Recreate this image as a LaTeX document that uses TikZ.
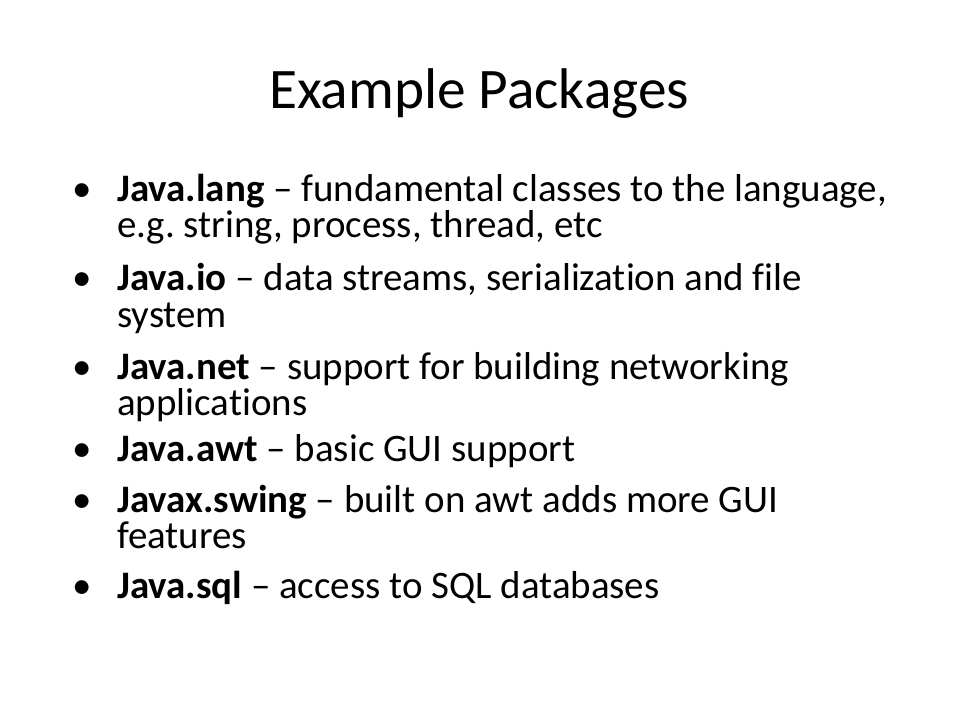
\documentclass[tikz,border=0pt]{standalone}
\usepackage{fontspec}
\setmainfont{Carlito}[Ligatures={NoCommon,NoRare,NoContextual}]
\frenchspacing
\begin{document}
\begin{tikzpicture}[x=0.75pt,y=-0.75pt,
  titletext/.style={font=\fontsize{43}{50}\selectfont, anchor=base, inner sep=0pt},
  bodytext/.style={font=\fontsize{29.2}{34}\selectfont, anchor=base west, inner sep=0pt},
  bulletmark/.style={font=\fontsize{29.2}{34}\selectfont, anchor=base, inner sep=0pt}]
\useasboundingbox (0,0) rectangle (960,720);
\fill[white] (0,0) rectangle (960,720);
\node[titletext] (title) at (479,109) {Example Packages};
% bullets
\node[bulletmark] (m1) at (82,202) {•};
\node[bulletmark] (m2) at (82,291) {•};
\node[bulletmark] (m3) at (82,379) {•};
\node[bulletmark] (m4) at (82,461) {•};
\node[bulletmark] (m5) at (82,512) {•};
\node[bulletmark] (m6) at (82,598) {•};
% lines
\node[bodytext] (l1a) at (117,202) {\textbf{Java.lang} – fundamental classes to the language,};
\node[bodytext] (l1b) at (117,238) {e.g. string, process, thread, etc};
\node[bodytext] (l2a) at (117,291) {\textbf{Java.io} – data streams, serialization and file};
\node[bodytext] (l2b) at (117,327) {system};
\node[bodytext] (l3a) at (117,379) {\textbf{Java.net} – support for building networking};
\node[bodytext] (l3b) at (117,415) {applications};
\node[bodytext] (l4a) at (117,461) {\textbf{Java.awt} – basic GUI support};
\node[bodytext] (l5a) at (117,512) {\textbf{Javax.swing} – built on awt adds more GUI};
\node[bodytext] (l5b) at (117,548) {features};
\node[bodytext] (l6a) at (117,598) {\textbf{Java.sql} – access to SQL databases};
\end{tikzpicture}
\end{document}
